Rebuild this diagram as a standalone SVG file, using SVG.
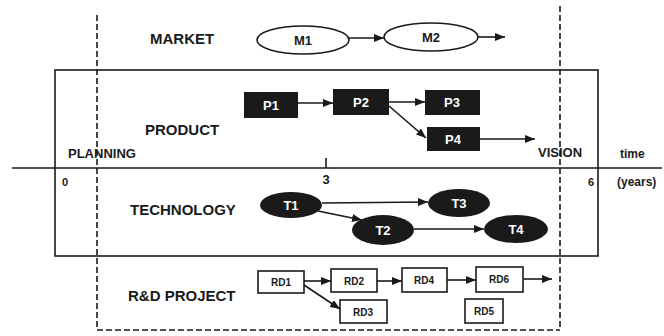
<svg xmlns="http://www.w3.org/2000/svg" width="664" height="336" viewBox="0 0 664 336">
<defs>
<marker id="ah" viewBox="0 0 10 8" refX="10" refY="4" markerWidth="10" markerHeight="8" markerUnits="userSpaceOnUse" orient="auto">
<path d="M0,0 L10,4 L0,8 Z" fill="#1a1a1a"/>
</marker>
<style>
text{font-family:"Liberation Sans",Arial,sans-serif;font-weight:bold;fill:#1a1a1a}
.lbl{font-size:15px}
.sm{font-size:13px}
.wt{fill:#fff;font-size:13px;text-anchor:middle}
.bt{font-size:13px;text-anchor:middle}
.rd{font-size:10px;text-anchor:middle}
.ln{stroke:#1a1a1a;stroke-width:1.6;fill:none}
.ar{stroke:#1a1a1a;stroke-width:1.6;fill:none;marker-end:url(#ah)}
.dash{stroke:#1a1a1a;stroke-width:1.6;fill:none;stroke-dasharray:6 3}
.blk{fill:#1a1a1a}
.box{fill:#fff;stroke:#1a1a1a;stroke-width:1.6}
</style>
</defs>
<rect width="664" height="336" fill="#fff"/>

<g id="frame">
<rect x="55" y="70" width="543" height="186" class="ln"/>
<line x1="12" y1="168" x2="662" y2="168" class="ln"/>
<line x1="326" y1="158" x2="326" y2="168" class="ln" stroke-width="2.5"/>
<line x1="97" y1="15" x2="97" y2="330" class="dash"/>
<line x1="560" y1="6" x2="560" y2="330" class="dash"/>
<line x1="97" y1="330" x2="560" y2="330" class="dash"/>
</g>

<g id="labels">
<text x="150" y="44" class="lbl">MARKET</text>
<text x="145" y="135" class="lbl">PRODUCT</text>
<text x="68" y="158" class="sm">PLANNING</text>
<text x="538" y="157" class="sm">VISION</text>
<text x="130" y="215" class="lbl">TECHNOLOGY</text>
<text x="128" y="301" class="lbl">R&amp;D PROJECT</text>
<text x="62" y="186" font-size="11">0</text>
<text x="326" y="184" font-size="13" text-anchor="middle">3</text>
<text x="591" y="186" font-size="11" text-anchor="middle">6</text>
<text x="620" y="158" font-size="12">time</text>
<text x="617" y="186" font-size="12">(years)</text>
</g>

<g id="M1"><ellipse cx="303" cy="40" rx="46" ry="14" class="box"/><text x="303" y="45" class="bt">M1</text></g>
<g id="M2"><ellipse cx="431" cy="37" rx="47" ry="14" class="box"/><text x="431" y="42" class="bt">M2</text></g>

<g id="P1"><rect x="244" y="92" width="54" height="26" class="blk"/><text x="271" y="110" class="wt">P1</text></g>
<g id="P2"><rect x="333" y="89" width="56" height="26" class="blk"/><text x="361" y="107" class="wt">P2</text></g>
<g id="P3"><rect x="425" y="90" width="55" height="25" class="blk"/><text x="452" y="107" class="wt">P3</text></g>
<g id="P4"><rect x="427" y="127" width="53" height="24" class="blk"/><text x="453" y="144" class="wt">P4</text></g>

<g id="T1"><ellipse cx="291" cy="205" rx="31" ry="13" class="blk"/><text x="291" y="210" class="wt">T1</text></g>
<g id="T2"><ellipse cx="383" cy="230" rx="31" ry="15" class="blk"/><text x="383" y="235" class="wt">T2</text></g>
<g id="T3"><ellipse cx="459" cy="203" rx="31" ry="14" class="blk"/><text x="459" y="208" class="wt">T3</text></g>
<g id="T4"><ellipse cx="516" cy="229" rx="32" ry="14" class="blk"/><text x="516" y="234" class="wt">T4</text></g>

<g id="RD1"><rect x="258" y="271" width="46" height="22" class="box"/><text x="281" y="286" class="rd">RD1</text></g>
<g id="RD2"><rect x="331" y="269" width="46" height="23" class="box"/><text x="354" y="285" class="rd">RD2</text></g>
<g id="RD3"><rect x="340" y="300" width="47" height="23" class="box"/><text x="363" y="316" class="rd">RD3</text></g>
<g id="RD4"><rect x="402" y="268" width="45" height="24" class="box"/><text x="424" y="284" class="rd">RD4</text></g>
<g id="RD6"><rect x="476" y="267" width="47" height="25" class="box"/><text x="499" y="283" class="rd">RD6</text></g>
<g id="RD5"><rect x="465" y="299" width="38" height="24" class="box"/><text x="484" y="315" class="rd">RD5</text></g>

<g id="connectors">
<line x1="349" y1="38" x2="384" y2="38" class="ar"/>
<line x1="478" y1="37" x2="505" y2="37" class="ar"/>
<line x1="298" y1="103" x2="333" y2="103" class="ar"/>
<line x1="389" y1="102" x2="425" y2="102" class="ar"/>
<line x1="389" y1="106" x2="426" y2="138" class="ar"/>
<line x1="480" y1="139" x2="535" y2="139" class="ar"/>
<line x1="322" y1="203" x2="428" y2="202" class="ar"/>
<line x1="318" y1="211" x2="362" y2="220" class="ar"/>
<line x1="414" y1="229" x2="484" y2="229" class="ar"/>
<line x1="304" y1="281" x2="331" y2="281" class="ar"/>
<line x1="304" y1="285" x2="340" y2="309" class="ar"/>
<line x1="377" y1="281" x2="402" y2="281" class="ar"/>
<line x1="447" y1="280" x2="476" y2="280" class="ar"/>
<line x1="523" y1="279" x2="552" y2="279" class="ar"/>
</g>
</svg>
